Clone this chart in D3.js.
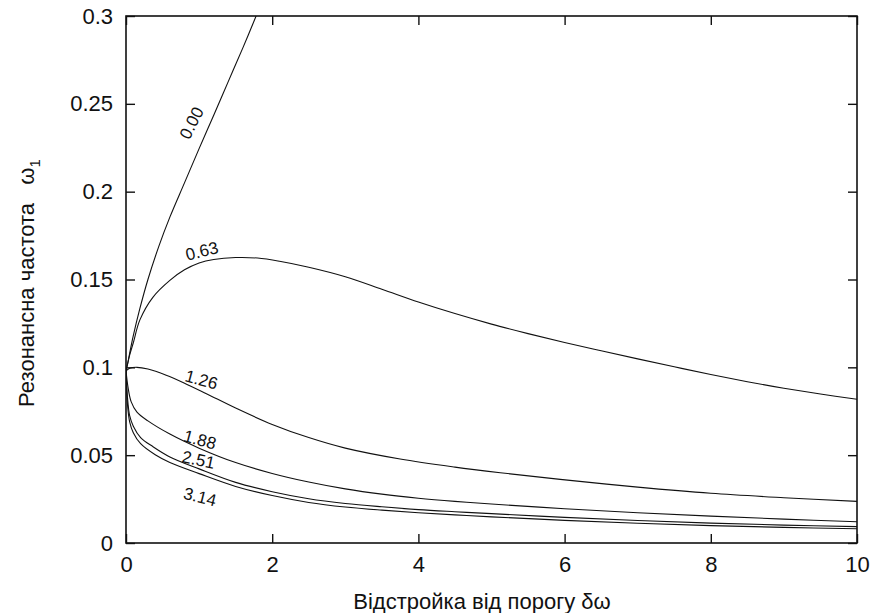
<!DOCTYPE html>
<html lang="uk">

<head>
    <meta charset="UTF-8">
    <title>Резонансна частота</title>
    <style>
        body {
            margin: 0;
            background: #fff;
        }

        svg text {
            font-family: "Liberation Sans", Arial, sans-serif;
            fill: #111;
        }

        .curve {
            fill: none;
            stroke: #111;
            stroke-width: 1.1;
        }

        .frame {
            fill: none;
            stroke: #111;
            stroke-width: 1.6;
        }

        .tickmark {
            stroke: #111;
            stroke-width: 1.4;
        }
    </style>
</head>

<body>
    <svg id="chart"></svg>

    <script src="https://d3js.org/d3.v7.min.js"></script>
    <script>
        // series names (the parameter each curve is labelled with)
        const seriesNames = ["0.00", "0.63", "1.26", "1.88", "2.51", "3.14"];

        // values: [detuning, resonance frequency]
        const curve000 = [[0, 0.098], [0.02, 0.1015], [0.05, 0.108], [0.1, 0.118], [0.19, 0.1335], [0.3, 0.150],
            [0.45, 0.169], [0.6, 0.1855], [0.8, 0.205], [1.0, 0.2245], [1.2, 0.2435], [1.4, 0.2628], [1.6, 0.282], [1.78, 0.300]];
        const curve063 = [[0, 0.098], [0.05, 0.107], [0.1, 0.114], [0.19, 0.127], [0.37, 0.140], [0.6, 0.1495],
            [0.8, 0.1555], [1.0, 0.1594], [1.2, 0.1614], [1.5, 0.1625], [1.8, 0.1622], [2.1, 0.1604], [2.5, 0.1570],
            [3.0, 0.1516], [3.5, 0.1445], [4.0, 0.1372], [4.5, 0.1306], [5.0, 0.1246], [5.5, 0.1192], [6.0, 0.1141],
            [6.5, 0.1094], [7.0, 0.1048], [7.5, 0.1003], [8.0, 0.0959], [8.5, 0.0918], [9.0, 0.0881], [9.5, 0.0848], [10, 0.0818]];
        const curve126 = [[0, 0.098], [0.05, 0.0995], [0.15, 0.100], [0.3, 0.099], [0.55, 0.0955], [0.8, 0.0910],
            [1.1, 0.0850], [1.5, 0.0768], [2.0, 0.0675], [2.5, 0.0600], [3.0, 0.0540], [3.75, 0.0478], [4.5, 0.0432],
            [5.12, 0.0400], [5.94, 0.0362], [7.0, 0.0318], [8.0, 0.0283], [9.0, 0.0258], [10, 0.0237]];
        const curve188 = [[0, 0.098], [0.03, 0.088], [0.07, 0.0805], [0.15, 0.0745], [0.3, 0.0695], [0.6, 0.0620],
            [1.0, 0.0540], [1.5, 0.0458], [2.0, 0.0396], [2.5, 0.0347], [3.0, 0.0308], [3.5, 0.0278], [4.0, 0.0255],
            [4.5, 0.0237], [5.0, 0.0222], [6.0, 0.0195], [7.0, 0.0172], [8.0, 0.0153], [9.0, 0.0136], [10, 0.0121]];
        const curve251 = [[0, 0.098], [0.02, 0.083], [0.05, 0.0725], [0.1, 0.0665], [0.2, 0.0600], [0.37, 0.0548],
            [0.6, 0.0490], [1.0, 0.0422], [1.5, 0.0345], [2.0, 0.0292], [2.5, 0.0252], [3.0, 0.0225], [3.5, 0.0206],
            [4.0, 0.0190], [4.5, 0.0178], [5.0, 0.0167], [6.0, 0.0146], [7.0, 0.0128], [8.0, 0.0113], [9.0, 0.0102], [10, 0.0093]];
        const curve314 = [[0, 0.098], [0.02, 0.079], [0.05, 0.0690], [0.1, 0.0628], [0.2, 0.0565], [0.4, 0.0502],
            [0.6, 0.0458], [1.0, 0.0395], [1.5, 0.0322], [2.0, 0.0270], [2.5, 0.0231], [3.0, 0.0205], [3.5, 0.0187],
            [4.0, 0.0172], [4.5, 0.0160], [5.0, 0.0149], [6.0, 0.0129], [7.0, 0.0112], [8.0, 0.0099], [9.0, 0.0089], [10, 0.0081]];

        // where each curve label sits, in data units
        const labelX = [0.90, 1.04, 1.03, 1.01, 0.99, 1.01];
        const labelY = [0.239, 0.166, 0.0928, 0.0586, 0.0472, 0.0261];

        // tick labels
        const xTicks = [0, 2, 4, 6, 8, 10];
        const yTicks = [0, 0.05, 0.1, 0.15, 0.2, 0.25, 0.3];

        const curves = [curve000, curve063, curve126, curve188, curve251, curve314];

        const w = 874;
        const h = 613;
        const margin = { left: 126, right: 17, top: 16, bottom: 70 };

        const svg = d3.select("#chart")
            .attr("width", w)
            .attr("height", h);

        const xScale = d3.scaleLinear()
            .domain([0, 10])
            .range([margin.left, w - margin.right]);

        const yScale = d3.scaleLinear()
            .domain([0, 0.3])
            .range([h - margin.bottom, margin.top]);

        const x0 = xScale(0), x1 = xScale(10);
        const y0 = yScale(0), y1 = yScale(0.3);

        // clip curves to the frame
        svg.append("clipPath")
            .attr("id", "plot-clip")
            .append("rect")
            .attr("x", x0)
            .attr("y", y1)
            .attr("width", x1 - x0)
            .attr("height", y0 - y1);

        // ticks go inward, mirrored on top and right
        const tickLen = 9;
        const xAxisBottom = d3.axisBottom(xScale).tickValues(xTicks).tickSizeInner(-tickLen).tickSizeOuter(0).tickPadding(13).tickFormat(d3.format("d"));
        const xAxisTop = d3.axisTop(xScale).tickValues(xTicks).tickSizeInner(-tickLen).tickSizeOuter(0).tickFormat("");
        const yAxisLeft = d3.axisLeft(yScale).tickValues(yTicks).tickSizeInner(-tickLen).tickSizeOuter(0).tickPadding(13).tickFormat(d => String(d));
        const yAxisRight = d3.axisRight(yScale).tickValues(yTicks).tickSizeInner(-tickLen).tickSizeOuter(0).tickFormat("");

        const axes = [
            [xAxisBottom, "translate(0," + y0 + ")"],
            [xAxisTop, "translate(0," + y1 + ")"],
            [yAxisLeft, "translate(" + x0 + ",0)"],
            [yAxisRight, "translate(" + x1 + ",0)"]
        ];
        axes.forEach(([axis, tr]) => {
            const g = svg.append("g").attr("transform", tr).call(axis);
            g.select(".domain").remove();
            g.selectAll(".tick line").attr("class", "tickmark").attr("stroke", null);
            g.selectAll(".tick text")
                .attr("fill", null)
                .style("font-size", "22px");
        });

        svg.append("rect")
            .attr("class", "frame")
            .attr("x", x0)
            .attr("y", y1)
            .attr("width", x1 - x0)
            .attr("height", y0 - y1);

        const line = d3.line()
            .x(d => xScale(d[0]))
            .y(d => yScale(d[1]))
            .curve(d3.curveCatmullRom.alpha(0.5));

        svg.append("g")
            .attr("clip-path", "url(#plot-clip)")
            .selectAll("path")
            .data(curves)
            .enter()
            .append("path")
            .attr("class", "curve")
            .attr("d", line);

        // curve labels, rotated along their curves
        const labelAngle = [-63, -14, 15, 15, 12, 14];
        svg.append("g")
            .selectAll("text")
            .data(seriesNames)
            .enter()
            .append("text")
            .attr("transform", (d, i) => "translate(" + xScale(labelX[i]) + "," + yScale(labelY[i]) + ") rotate(" + labelAngle[i] + ")")
            .attr("text-anchor", "middle")
            .attr("dominant-baseline", "central")
            .style("font-size", "17px")
            .text(d => d);

        // axis titles
        svg.append("text")
            .attr("x", 482)
            .attr("y", 609)
            .attr("text-anchor", "middle")
            .style("font-size", "22px")
            .text("Відстройка від порогу δω");

        const yTitle = svg.append("text")
            .attr("transform", "translate(34,283) rotate(-90)")
            .attr("text-anchor", "middle")
            .style("font-size", "22px")
            .style("white-space", "pre");
        yTitle.append("tspan").text("Резонансна частота   ω");
        yTitle.append("tspan").attr("dy", 6).style("font-size", "15px").text("1");
    </script>
</body>

</html>
